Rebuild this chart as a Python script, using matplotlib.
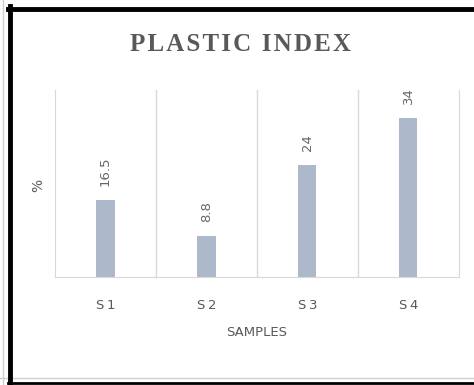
import matplotlib.pyplot as plt
from matplotlib.lines import Line2D

# Plastic index per sample (%)
samples = ['S1', 'S2', 'S3', 'S4']
plastic_index = [16.5, 8.8, 24, 34]
value_labels = ['16.5', '8.8', '24', '34']

fig = plt.figure(figsize=(4.74, 3.85), dpi=100)
ax = fig.add_axes([0.116, 0.2805, 0.852, 0.4857])

x = range(len(samples))
ax.bar(x, plastic_index, width=0.18, color='#adb9ca', zorder=2)

# category separators as vertical gridlines
for b in [0.5, 1.5, 2.5]:
    ax.axvline(b, color='#d9d9d9', lw=1, zorder=1)

ax.set_xlim(-0.5, 3.5)
ax.set_ylim(0, 40)
ax.set_yticks([])
ax.set_xticks(list(x))
ax.set_xticklabels([s[0] + '\u2009' + s[1:] for s in samples], color='#595959', fontsize=9.5)
ax.tick_params(axis='x', length=0, pad=16)

for side in ['left', 'right', 'bottom']:
    ax.spines[side].set_color('#d9d9d9')
ax.spines['top'].set_visible(False)

for xi, v, lab in zip(x, plastic_index, value_labels):
    ax.annotate(lab, (xi, v), xytext=(0, 10), textcoords='offset points',
                rotation=90, ha='center', va='bottom', fontsize=9.5, color='#666666')

ax.set_xlabel('SAMPLES', color='#595959', fontsize=9.5, labelpad=10)
ax.set_ylabel('%', color='#595959', fontsize=10)
ax.yaxis.set_label_coords(-0.025, 0.49)

fig.text(0.507, 0.885, '\u200a'.join('PLASTIC INDEX'), ha='center', va='center', fontsize=18,
         fontweight='bold', family=['Liberation Serif', 'DejaVu Serif'], color='#595959')

# outer frame
fig.add_artist(Line2D([3/474, 3/474], [0, 1], color='#d0d0d0', lw=1))
fig.add_artist(Line2D([0, 1], [1 - 378/385, 1 - 378/385], color='#d0d0d0', lw=1))
fig.add_artist(Line2D([10/474, 10/474], [0, 1 - 6/385], color='black', lw=3.5))
fig.add_artist(Line2D([8/474, 1], [1 - 8.5/385, 1 - 8.5/385], color='black', lw=3.5))
fig.add_artist(Line2D([8/474, 1], [1 - 383/385, 1 - 383/385], color='black', lw=2))

fig.savefig('out.png', dpi=100)
